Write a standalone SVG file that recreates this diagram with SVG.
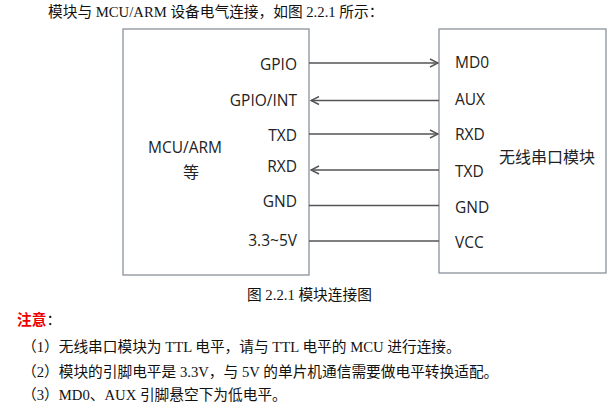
<svg xmlns="http://www.w3.org/2000/svg" width="613" height="409" viewBox="0 0 613 409">
<style>
.box{fill:#fff;stroke:#8a939c;stroke-width:1.3}
.lbl{font-family:"Open Sans","Noto Sans CJK SC",sans-serif;font-size:15.5px;fill:#222}
.cjk{font-family:"Noto Sans CJK SC",sans-serif;font-size:16px;fill:#222}
.doc{font-family:"Liberation Serif","Noto Sans CJK SC",serif;font-size:14.7px;fill:#111}
.wire{stroke:#555;stroke-width:1.6;fill:none}
</style>
<defs>
<marker id="arr" viewBox="0 0 10 10" refX="9" refY="5" markerWidth="10" markerHeight="10" markerUnits="userSpaceOnUse" orient="auto">
<path d="M1,1 L9,5 L1,9" fill="none" stroke="#555" stroke-width="1.4"/>
</marker>
</defs>
<rect width="613" height="409" fill="#fff"/>
<text class="doc" x="48" y="17">模块与 MCU/ARM 设备电气连接，如图 2.2.1 所示：</text>
<g id="mcu">
<rect class="box" x="123" y="29" width="186" height="246"/>
<text class="lbl" x="185" y="153" text-anchor="middle">MCU/ARM</text>
<text class="cjk" x="191" y="178" text-anchor="middle">等</text>
<text class="lbl" x="297" y="70" text-anchor="end">GPIO</text>
<text class="lbl" x="297" y="106" text-anchor="end">GPIO/INT</text>
<text class="lbl" x="297" y="141" text-anchor="end">TXD</text>
<text class="lbl" x="297" y="172" text-anchor="end">RXD</text>
<text class="lbl" x="297" y="207" text-anchor="end">GND</text>
<text class="lbl" x="297" y="246" text-anchor="end">3.3~5V</text>
</g>
<g id="module">
<rect class="box" x="439" y="29" width="167" height="244"/>
<text class="cjk" x="499" y="163">无线串口模块</text>
<text class="lbl" x="455" y="68">MD0</text>
<text class="lbl" x="455" y="105">AUX</text>
<text class="lbl" x="455" y="140">RXD</text>
<text class="lbl" x="455" y="177">TXD</text>
<text class="lbl" x="455" y="213">GND</text>
<text class="lbl" x="455" y="248">VCC</text>
</g>
<g id="connectors">
<line class="wire" x1="309" y1="63" x2="438" y2="63" marker-end="url(#arr)"/>
<line class="wire" x1="439" y1="100.5" x2="311" y2="100.5" marker-end="url(#arr)"/>
<line class="wire" x1="309" y1="134" x2="438" y2="134" marker-end="url(#arr)"/>
<line class="wire" x1="439" y1="170" x2="311" y2="170" marker-end="url(#arr)"/>
<line class="wire" x1="309" y1="205.5" x2="439" y2="205.5"/>
<line class="wire" x1="309" y1="241" x2="439" y2="241"/>
</g>
<text class="doc" x="247" y="300">图 2.2.1  模块连接图</text>
<text class="doc" x="17" y="325"><tspan fill="#e00" font-weight="bold">注意</tspan>：</text>
<text class="doc" x="22" y="352">（1）无线串口模块为 TTL 电平，请与 TTL 电平的 MCU 进行连接。</text>
<text class="doc" x="22" y="377">（2）模块的引脚电平是 3.3V，与 5V 的单片机通信需要做电平转换适配。</text>
<text class="doc" x="22" y="400">（3）MD0、AUX 引脚悬空下为低电平。</text>
</svg>
